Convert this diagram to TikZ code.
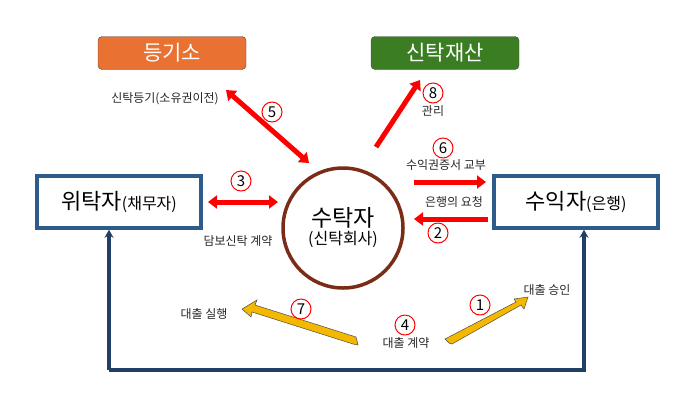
\documentclass[tikz,border=0pt]{standalone}
\usepackage{fontspec}
\setmainfont{Noto Sans CJK KR}
\usepackage{xcolor}
\usetikzlibrary{shapes,arrows.meta,positioning,calc}
\definecolor{regorange}{HTML}{E97132}
\definecolor{assetgreen}{HTML}{3A7D22}
\definecolor{partyblue}{HTML}{2E5C8A}
\definecolor{loopblue}{HTML}{1F3F66}
\definecolor{trustbrown}{HTML}{7B2C17}
\definecolor{loanyellow}{HTML}{F5B800}
\tikzset{
  topbox/.style={rounded corners=4pt, draw=black!70, minimum width=148pt, minimum height=33pt, text=white, font=\fontsize{21}{21}\selectfont},
  partybox/.style={draw=partyblue, line width=3.5pt, fill=white, minimum width=164pt, minimum height=52pt, font=\fontsize{22}{22}\selectfont},
  redarrow/.style={red, line width=5pt, -{Triangle[length=9pt,width=13pt]}},
  redboth/.style={redarrow, {Triangle[length=9pt,width=13pt]}-{Triangle[length=9pt,width=13pt]}},
  loanarrow/.style={draw=black!70, line width=0.5pt, fill=loanyellow},
  stepno/.style={circle, draw=red, line width=1pt, inner sep=0pt, minimum size=20pt, font=\fontsize{15}{15}\selectfont},
  lbl/.style={font=\fontsize{12}{12}\selectfont, text=black!85}
}
\begin{document}
\begin{tikzpicture}[x=1pt,y=-1pt]
        \useasboundingbox (0,0) rectangle (700,400);
        % Boxes
        \node[topbox, fill=regorange] (reg) at (172,53) {등기소};
        \node[topbox, fill=assetgreen] (asset) at (445,53) {신탁재산};
        \node[partybox] (truster) at (119,202) {위탁자{\fontsize{16}{16}\selectfont(채무자)}};
        \node[partybox] (bank) at (576,202) {수익자{\fontsize{16}{16}\selectfont(은행)}};
        \node[circle, draw=trustbrown, line width=3.5pt, minimum size=120pt, align=center] (trustee) at (343,228)
            {{\fontsize{23}{24}\selectfont 수탁자}\\[2pt]{\fontsize{16}{17}\selectfont(신탁회사)}};

        % Red arrows
        \coordinate (regend) at (226,90);
        \coordinate (trtop) at (309,163);
        \draw[redboth] (regend) -- (trtop);
        \coordinate (assfrom) at (376,147);
        \coordinate (assto) at (420,80);
        \draw[redarrow] (assfrom) -- (assto);
        \coordinate (sixa) at (414,182);
        \coordinate (sixb) at (486,182);
        \draw[redarrow] (sixa) -- (sixb);
        \coordinate (twoa) at (488,219);
        \coordinate (twob) at (414,219);
        \draw[redarrow] (twoa) -- (twob);
        \coordinate (threea) at (208,202);
        \coordinate (threeb) at (278,202);
        \draw[redboth] (threea) -- (threeb);

        % Yellow loan arrows
        \draw[loanarrow] (358,345) -- (356,337) -- (255,305) -- (257,300) -- (242,309) -- (251,317) -- (252,312) -- (353,344) -- cycle;
        \draw[loanarrow] (449,343) -- (445,339) -- (516,302) -- (514,299) -- (528,297) -- (524,309) -- (521,305) -- (452,344) -- cycle;

        % Blue loop
        \coordinate (loopl) at (109,370);
        \coordinate (loopr) at (584,370);
        \draw[loopblue, line width=3.5pt, -{Stealth[length=8pt,width=9pt]}] (loopl) -- (truster.south -| loopl);
        \draw[loopblue, line width=3.5pt, -{Stealth[length=8pt,width=9pt]}] (loopl) -- (loopr) -- (bank.south -| loopr);

        % Step numbers
        \node[stepno] (s5) at (272,112) {5};
        \node[stepno] (s8) at (433,93) {8};
        \node[stepno] (s6) at (443,148) {6};
        \node[stepno] (s2) at (438,233) {2};
        \node[stepno] (s3) at (241,181) {3};
        \node[stepno] (s7) at (301,309) {7};
        \node[stepno] (s4) at (405,325) {4};
        \node[stepno] (s1) at (480,305) {1};

        % Labels
        \node[lbl] (l5) at (165,99) {신탁등기(소유권이전)};
        \node[lbl] (l8) at (433,111) {관리};
        \node[lbl] (l6) at (446,165) {수익권증서 교부};
        \node[lbl] (l2) at (454,202) {은행의 요청};
        \node[lbl] (l3) at (238,241) {담보신탁 계약};
        \node[lbl] (l7) at (204,314) {대출 실행};
        \node[lbl] (l4) at (406,343) {대출 계약};
        \node[lbl] (l1) at (547,290) {대출 승인};
    \end{tikzpicture}
\end{document}
